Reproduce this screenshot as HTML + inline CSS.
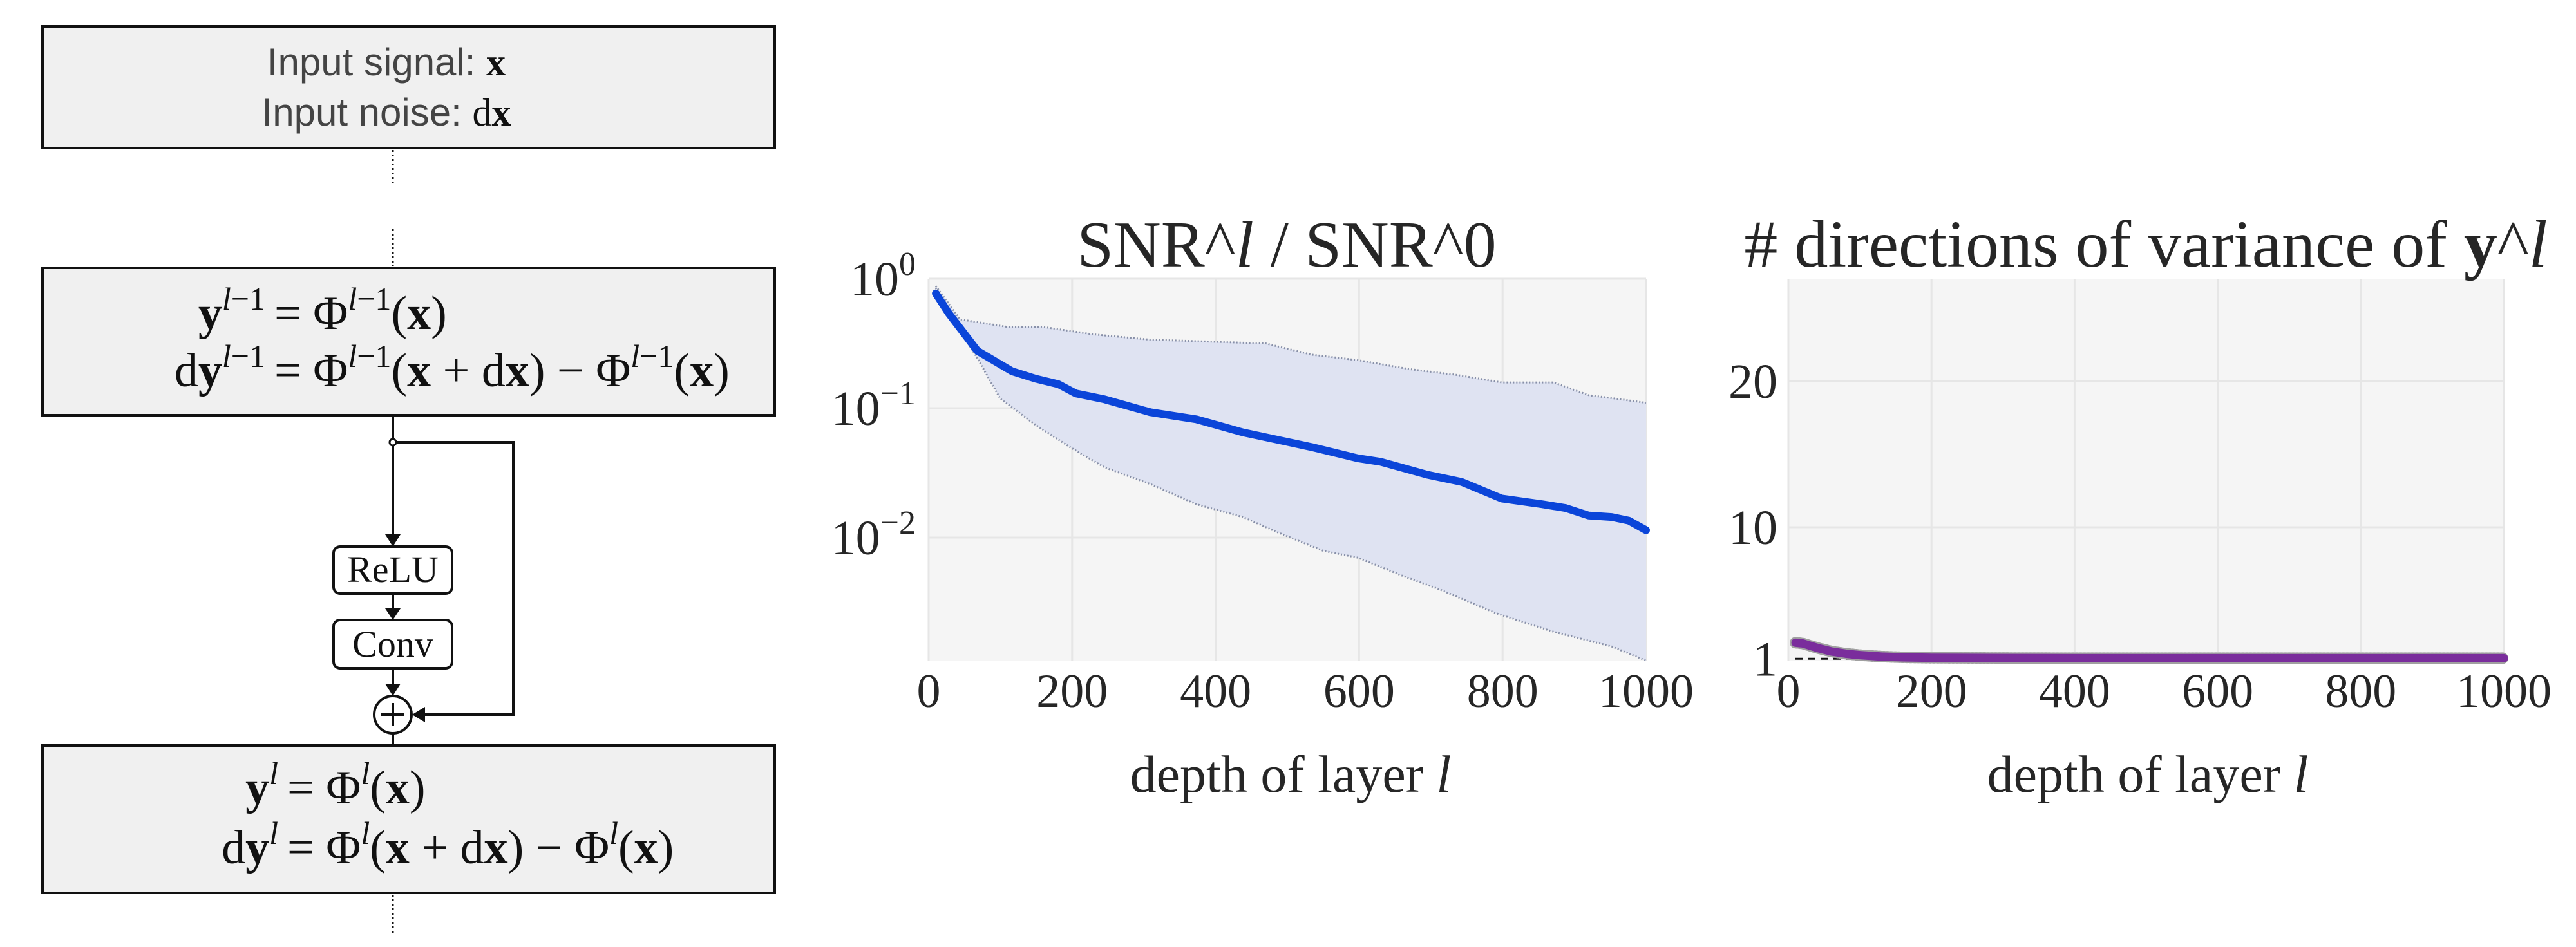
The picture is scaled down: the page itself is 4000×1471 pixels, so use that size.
<!DOCTYPE html>
<html><head><meta charset="utf-8"><style>
html,body{margin:0;padding:0;background:#fff;}
svg{display:block;}
.serif{font-family:"Liberation Serif","DejaVu Serif",serif;fill:#262626;}
.sans{font-family:"Liberation Sans","DejaVu Sans",sans-serif;fill:#444;}
</style></head><body>
<svg id="root" width="4000" height="1471" viewBox="0 0 4000 1471" xmlns="http://www.w3.org/2000/svg">
<g id="diagram">
  <rect x="66" y="41" width="1137" height="189" fill="#f0f0f0" stroke="#111" stroke-width="4"/>
  <text x="600" y="117" text-anchor="middle" class="sans" font-size="60">Input signal: <tspan font-family="Liberation Serif" font-weight="bold" fill="#111">x</tspan></text>
  <text x="600" y="195" text-anchor="middle" class="sans" font-size="60">Input noise: <tspan font-family="Liberation Serif" fill="#111">d</tspan><tspan font-family="Liberation Serif" font-weight="bold" fill="#111">x</tspan></text>
  <line x1="610" y1="233" x2="610" y2="289" stroke="#111" stroke-width="3" stroke-dasharray="3 4"/>
  <line x1="610" y1="356" x2="610" y2="413" stroke="#111" stroke-width="3" stroke-dasharray="3 4"/>
  <rect x="66" y="416" width="1137" height="229" fill="#f0f0f0" stroke="#111" stroke-width="4"/>
  <g class="serif" font-size="74" style="fill:#111">
    <text x="412" y="511" text-anchor="end"><tspan font-weight="bold">y</tspan><tspan font-style="italic" font-size="50" dy="-30">l</tspan><tspan font-size="50">−1</tspan></text>
    <text x="426" y="511">= Φ<tspan font-style="italic" font-size="50" dy="-30">l</tspan><tspan font-size="50">−1</tspan><tspan dy="30">(</tspan><tspan font-weight="bold">x</tspan>)</text>
    <text x="412" y="600" text-anchor="end">d<tspan font-weight="bold">y</tspan><tspan font-style="italic" font-size="50" dy="-30">l</tspan><tspan font-size="50">−1</tspan></text>
    <text x="426" y="600">= Φ<tspan font-style="italic" font-size="50" dy="-30">l</tspan><tspan font-size="50">−1</tspan><tspan dy="30">(</tspan><tspan font-weight="bold">x</tspan> + d<tspan font-weight="bold">x</tspan>) − Φ<tspan font-style="italic" font-size="50" dy="-30">l</tspan><tspan font-size="50">−1</tspan><tspan dy="30">(</tspan><tspan font-weight="bold">x</tspan>)</text>
  </g>
  <g stroke="#111" stroke-width="4" fill="none">
    <line x1="610" y1="645" x2="610" y2="838"/>
    <polyline points="610,687 797,687 797,1110 650,1110"/>
    <line x1="610" y1="922" x2="610" y2="953"/>
    <line x1="610" y1="1038" x2="610" y2="1070"/>
    <line x1="610" y1="1140" x2="610" y2="1158"/>
  </g>
  <circle cx="610" cy="687" r="5" fill="#fff" stroke="#111" stroke-width="3"/>
  <polygon points="598,830 622,830 610,849" fill="#111"/>
  <polygon points="598,945 622,945 610,963" fill="#111"/>
  <polygon points="598,1062 622,1062 610,1081" fill="#111"/>
  <polygon points="640,1110 660,1098 660,1122" fill="#111"/>
  <rect x="518" y="849" width="184" height="73" rx="10" fill="#fff" stroke="#111" stroke-width="4"/>
  <text x="610" y="904" text-anchor="middle" class="serif" font-size="58" style="fill:#111">ReLU</text>
  <rect x="518" y="963" width="184" height="75" rx="10" fill="#fff" stroke="#111" stroke-width="4"/>
  <text x="610" y="1020" text-anchor="middle" class="serif" font-size="58" style="fill:#111">Conv</text>
  <circle cx="610" cy="1110" r="29" fill="#fff" stroke="#111" stroke-width="4"/>
  <line x1="592" y1="1110" x2="628" y2="1110" stroke="#111" stroke-width="4"/>
  <line x1="610" y1="1092" x2="610" y2="1128" stroke="#111" stroke-width="4"/>
  <rect x="66" y="1158" width="1137" height="229" fill="#f0f0f0" stroke="#111" stroke-width="4"/>
  <g class="serif" font-size="74" style="fill:#111">
    <text x="432" y="1248" text-anchor="end"><tspan font-weight="bold">y</tspan><tspan font-style="italic" font-size="50" dy="-30">l</tspan></text>
    <text x="446" y="1248">= Φ<tspan font-style="italic" font-size="50" dy="-30">l</tspan><tspan dy="30">(</tspan><tspan font-weight="bold">x</tspan>)</text>
    <text x="432" y="1341" text-anchor="end">d<tspan font-weight="bold">y</tspan><tspan font-style="italic" font-size="50" dy="-30">l</tspan></text>
    <text x="446" y="1341">= Φ<tspan font-style="italic" font-size="50" dy="-30">l</tspan><tspan dy="30">(</tspan><tspan font-weight="bold">x</tspan> + d<tspan font-weight="bold">x</tspan>) − Φ<tspan font-style="italic" font-size="50" dy="-30">l</tspan><tspan dy="30">(</tspan><tspan font-weight="bold">x</tspan>)</text>
  </g>
  <line x1="610" y1="1390" x2="610" y2="1450" stroke="#111" stroke-width="3" stroke-dasharray="3 4"/>
</g>
<g id="chart1"></g>
<g id="chart2"></g>
</svg>
<script>
// ---- Chart 1 data (SNR ratio, log scale) ----
const snrDepth = [10,28,68,116,149,181,205,245,309,373,438,486,534,598,630,695,743,799,855,888,920,952,976,1000];
const snrMean = [0.77,0.54,0.277,0.193,0.169,0.153,0.13,0.117,0.093,0.082,0.065,0.057,0.05,0.041,0.0385,0.0306,0.0269,0.02,0.0181,0.0169,0.0148,0.0144,0.0135,0.0114];
const upperDepth = [10,44,108,157,229,309,390,470,534,598,671,735,799,871,920,960,1000];
const snrUpper = [0.877,0.485,0.426,0.426,0.372,0.338,0.327,0.316,0.259,0.235,0.2,0.181,0.158,0.158,0.126,0.118,0.11];
const lowerDepth = [10,36,68,100,149,197,245,309,373,438,486,550,598,663,711,791,871,952,1000];
const snrLower = [0.849,0.469,0.243,0.118,0.0743,0.05,0.0349,0.0259,0.0181,0.0144,0.011,0.0079,0.007,0.005,0.004,0.0026,0.00187,0.00144,0.00112];
const xTicks = [0,200,400,600,800,1000];
const snrTickExps = [0,-1,-2];
// ---- Chart 2 data ----
const dirDepth = [10,20,40,60,80,100,130,160,200,300,400,600,800,1000];
const dirMean = [2.1,2.05,1.75,1.5,1.35,1.25,1.15,1.1,1.07,1.05,1.04,1.04,1.04,1.04];
const dirTicks = [1,10,20];

const NS='http://www.w3.org/2000/svg';
function mk(parent,tag,attrs,text){const e=document.createElementNS(NS,tag);for(const k in attrs)e.setAttribute(k,attrs[k]);if(text!==undefined)e.textContent=text;parent.appendChild(e);return e;}

// Chart 1
(function(){
  const g=document.getElementById('chart1');
  const L=1442,R=2556,T=433,B=1026;
  const xs=v=>L+(v/1000)*(R-L);
  const ys=v=>T+(-Math.log10(v))*201;
  const bg=mk(g,'rect',{x:L,y:T,width:R-L,height:B-T,fill:'#f5f5f5'});
  
  
  xTicks.forEach(t=>{const l=mk(g,'line',{x1:xs(t),x2:xs(t),y1:T,y2:B,stroke:'#e6e6e6','stroke-width':3});});
  snrTickExps.forEach(e=>{const y=ys(Math.pow(10,e));const l=mk(g,'line',{x1:L,x2:R,y1:y,y2:y,stroke:'#e6e6e6','stroke-width':3});});
  let d='';upperDepth.forEach((x,i)=>{d+=(i?'L':'M')+xs(x)+','+ys(snrUpper[i]);});
  const up=d;
  let dl='';for(let i=lowerDepth.length-1;i>=0;i--){dl+='L'+xs(lowerDepth[i])+','+ys(snrLower[i]);}
  const band=mk(g,'path',{d:d+dl+'Z',fill:'#dfe3f2'});
  
  
  let lo='';lowerDepth.forEach((x,i)=>{lo+=(i?'L':'M')+xs(x)+','+ys(snrLower[i]);});
  const ub=mk(g,'path',{d:up,fill:'none',stroke:'#8890a8','stroke-width':3,'stroke-dasharray':'2 3'});
  
  
  const lb=mk(g,'path',{d:lo,fill:'none',stroke:'#8890a8','stroke-width':3,'stroke-dasharray':'2 3'});
  
  
  let m='';snrDepth.forEach((x,i)=>{m+=(i?'L':'M')+xs(x)+','+ys(snrMean[i]);});
  const ml=mk(g,'path',{d:m,fill:'none',stroke:'#0b45d9','stroke-width':12,'stroke-linecap':'round','stroke-linejoin':'round'});
  
  
  xTicks.forEach(t=>{const tx=mk(g,'text',{x:xs(t),y:1098,'text-anchor':'middle',class:'serif','font-size':74},String(t));});
  snrTickExps.forEach(e=>{const y=ys(Math.pow(10,e))+26;const tx=mk(g,'text',{x:1422,y:y,'text-anchor':'end',class:'serif','font-size':76});
    mk(tx,'tspan',{},'10');mk(tx,'tspan',{'font-size':52,dy:-32},e===0?'0':'−'+(-e));
    });
  const ti=mk(g,'text',{x:1998,y:414,'text-anchor':'middle',class:'serif','font-size':102});
  mk(ti,'tspan',{},'SNR^');mk(ti,'tspan',{'font-style':'italic'},'l');mk(ti,'tspan',{},' / SNR^0');
  
  const xl=mk(g,'text',{x:2004,y:1230,'text-anchor':'middle',class:'serif','font-size':82});
  mk(xl,'tspan',{},'depth of layer ');mk(xl,'tspan',{'font-style':'italic'},'l');
  
})();

// Chart 2
(function(){
  const g=document.getElementById('chart2');
  const L=2777,R=3888,T=433,B=1027;
  const xs=v=>L+(v/1000)*(R-L);
  const ys=v=>819-(v-10)*22.7;
  const bg=mk(g,'rect',{x:L,y:T,width:R-L,height:B-T,fill:'#f5f5f5'});
  
  
  xTicks.forEach(t=>{const l=mk(g,'line',{x1:xs(t),x2:xs(t),y1:T,y2:B,stroke:'#e6e6e6','stroke-width':3});});
  dirTicks.forEach(t=>{if(t===1)return;const l=mk(g,'line',{x1:L,x2:R,y1:ys(t),y2:ys(t),stroke:'#e6e6e6','stroke-width':3});});
  const dl=mk(g,'line',{x1:L+10,x2:R,y1:ys(1),y2:ys(1),stroke:'#111','stroke-width':3,'stroke-dasharray':'12 8'});
  
  
  let m='';dirDepth.forEach((x,i)=>{m+=(i?'L':'M')+xs(x)+','+ys(dirMean[i]);});
  const band=mk(g,'path',{d:m,fill:'none',stroke:'#a0a0a0','stroke-width':18,'stroke-dasharray':'2 4','stroke-linecap':'round'});
  
  
  const ml=mk(g,'path',{d:m,fill:'none',stroke:'#7a2d9c','stroke-width':13,'stroke-linecap':'round','stroke-linejoin':'round'});
  
  
  xTicks.forEach(t=>{const tx=mk(g,'text',{x:xs(t),y:1098,'text-anchor':'middle',class:'serif','font-size':74},String(t));});
  dirTicks.forEach(t=>{const tx=mk(g,'text',{x:2760,y:ys(t)+26,'text-anchor':'end',class:'serif','font-size':76},String(t));});
  const ti=mk(g,'text',{x:3332,y:414,'text-anchor':'middle',class:'serif','font-size':104});
  mk(ti,'tspan',{},'# directions of variance of ');mk(ti,'tspan',{'font-weight':'bold'},'y');mk(ti,'tspan',{},'^');mk(ti,'tspan',{'font-style':'italic'},'l');
  
  const xl=mk(g,'text',{x:3335,y:1230,'text-anchor':'middle',class:'serif','font-size':82});
  mk(xl,'tspan',{},'depth of layer ');mk(xl,'tspan',{'font-style':'italic'},'l');
  
})();
</script>
</body></html>
